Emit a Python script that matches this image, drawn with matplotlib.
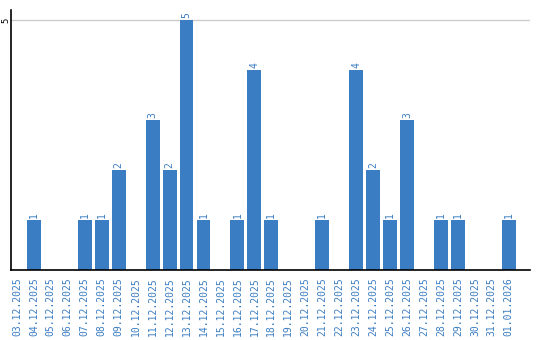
import matplotlib
matplotlib.use('Agg')
import matplotlib.pyplot as plt

dates = ['03.12.2025', '04.12.2025', '05.12.2025', '06.12.2025', '07.12.2025',
         '08.12.2025', '09.12.2025', '10.12.2025', '11.12.2025', '12.12.2025',
         '13.12.2025', '14.12.2025', '15.12.2025', '16.12.2025', '17.12.2025',
         '18.12.2025', '19.12.2025', '20.12.2025', '21.12.2025', '22.12.2025',
         '23.12.2025', '24.12.2025', '25.12.2025', '26.12.2025', '27.12.2025',
         '28.12.2025', '29.12.2025', '30.12.2025', '31.12.2025', '01.01.2026']
counts = [0, 1, 0, 0, 1, 1, 2, 0, 3, 2, 5, 1, 0, 1, 4, 1, 0, 0, 1, 0,
          4, 2, 1, 3, 0, 1, 1, 0, 0, 1]

blue = '#3b7dc2'

fig = plt.figure(figsize=(5.4, 3.4), dpi=100)
ax = fig.add_axes([11/540, 70/340, 519/540, 260/340])

x = list(range(len(dates)))
ax.bar(x, counts, width=0.82, color=blue, zorder=2)
for xi, c in zip(x, counts):
    if c > 0:
        ax.text(xi, c + 0.04, str(c), rotation=90, ha='center', va='bottom',
                color=blue, fontsize=7, family='DejaVu Sans Mono')

ax.set_xlim(-0.35, 30.25)
ax.set_ylim(0, 5.2)
ax.set_yticks([5])
ax.set_yticklabels(['5'], rotation=90, va='center', fontsize=6.5,
                   family='DejaVu Sans Mono')
ax.yaxis.grid(True, color='#cccccc', linewidth=1, zorder=0)
ax.tick_params(axis='y', length=0, pad=0.5)
ax.set_xticks(x)
ax.set_xticklabels(dates, rotation=90, fontsize=7, color=blue,
                   family='DejaVu Sans Mono')
ax.tick_params(axis='x', length=0, pad=5)
for s in ['top', 'right']:
    ax.spines[s].set_visible(False)
ax.spines['left'].set_linewidth(1.2)
ax.spines['bottom'].set_linewidth(1.2)

fig.savefig('out.png', dpi=100)
